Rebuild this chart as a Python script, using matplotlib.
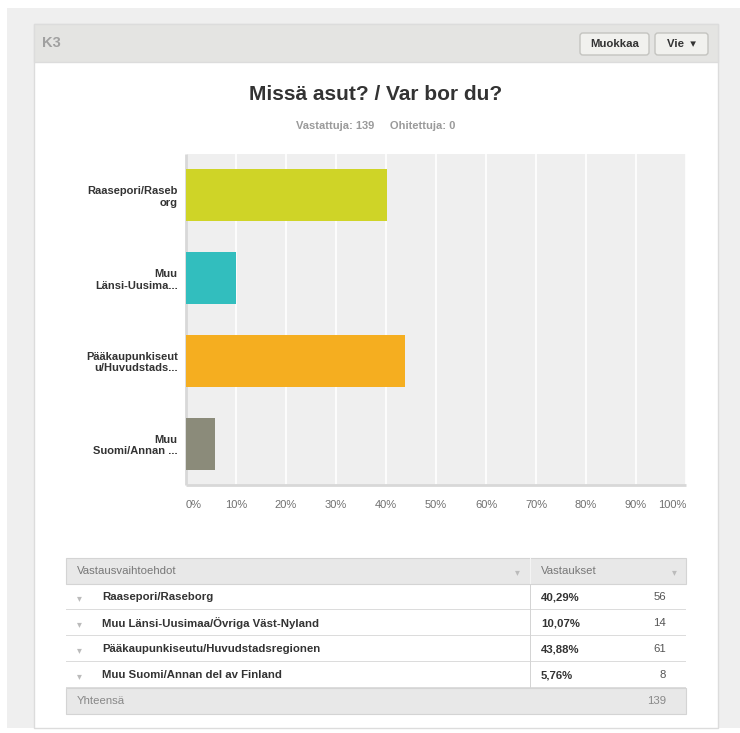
import matplotlib.pyplot as plt
from matplotlib.patches import Rectangle, FancyBboxPatch

plt.rcParams['font.family'] = ['Liberation Sans', 'DejaVu Sans']

# survey results
question = 'Missä asut? / Var bor du?'
answered = 139
skipped = 0
short_labels = ['Raasepori/Raseb\norg', 'Muu\nLänsi-Uusima...',
                'Pääkaupunkiseut\nu/Huvudstads...', 'Muu\nSuomi/Annan ...']
options = ['Raasepori/Raseborg', 'Muu Länsi-Uusimaa/Övriga Väst-Nyland',
           'Pääkaupunkiseutu/Huvudstadsregionen', 'Muu Suomi/Annan del av Finland']
percents = [40.29, 10.07, 43.88, 5.76]
counts = [56, 14, 61, 8]
total = 139
bar_colors = ['#cfd427', '#32bebe', '#f5ae20', '#8b8b7a']
ticks = [0, 10, 20, 30, 40, 50, 60, 70, 80, 90, 100]

W, H = 740, 733
fig = plt.figure(figsize=(W / 100, H / 100), dpi=100)

def px(x, y):
    # pixel position from the top-left corner -> figure fraction
    return x / W, 1 - y / H

def box(x0, y0, x1, y1, **kw):
    fx, fy = px(x0, y1)
    fig.patches.append(Rectangle((fx, fy), (x1 - x0) / W, (y1 - y0) / H,
                                 transform=fig.transFigure, **kw))

# page frame
box(7, 8, 740, 728, facecolor='#efefef', edgecolor='none', zorder=0)
box(34, 24, 718, 728, facecolor='white', edgecolor='#dcdcdc', lw=1, zorder=1)
box(34, 24, 718, 62, facecolor='#e4e4e2', edgecolor='#dcdcdc', lw=1, zorder=1)
fig.text(*px(42, 43), 'K3', fontsize=10.5, fontweight='bold', color='#a0a0a0',
         va='center', zorder=3)

# header buttons
for x0, x1, label in [(580, 649, 'Muokkaa'), (655, 708, 'Vie  ▾')]:
    fx, fy = px(x0, 55)
    fig.patches.append(FancyBboxPatch((fx, fy), (x1 - x0) / W, 22 / H,
                                      boxstyle='round,pad=0,rounding_size=0.004',
                                      transform=fig.transFigure,
                                      facecolor='#f1f1ee', edgecolor='#c4c4c0',
                                      lw=1, zorder=2))
    fig.text(*px((x0 + x1) / 2, 44), label, fontsize=8.2, fontweight='bold',
             color='#333333', ha='center', va='center', zorder=3)

fig.text(*px(376, 94), question, fontsize=15, fontweight='bold',
         color='#333333', ha='center', va='center', zorder=3)
fig.text(*px(376, 126), f'Vastattuja: {answered}     Ohitettuja: {skipped}',
         fontsize=8, fontweight='bold', color='#9a9a9a', ha='center', va='center',
         zorder=3)

# bar chart
ax = fig.add_axes([186 / W, 1 - 485 / H, 500 / W, 331 / H])
ax.set_zorder(5)
ax.set_facecolor('#efefef')
ypos = list(range(len(percents)))
ax.barh(ypos, percents, height=0.63, color=bar_colors, zorder=3)
ax.set_xlim(0, 100)
ax.set_ylim(len(percents) - 0.5, -0.5)
ax.set_xticks(ticks)
ax.set_xticklabels([f'{t}%' for t in ticks], fontsize=8, color='#707070')
xl = ax.get_xticklabels()
xl[0].set_ha('left')
xl[-1].set_ha('right')
ax.set_yticks(ypos)
ax.set_yticklabels(short_labels, fontsize=8, fontweight='bold', color='#333333',
                   linespacing=1.2)
ax.tick_params(axis='x', length=0, pad=11)
ax.tick_params(axis='y', length=0, pad=6)
ax.grid(axis='x', color='white', lw=1.2, zorder=1)
for s in ['top', 'right']:
    ax.spines[s].set_visible(False)
for s in ['left', 'bottom']:
    ax.spines[s].set_color('#d8d8d8')
    ax.spines[s].set_linewidth(2)
    ax.spines[s].set_capstyle('butt')

# results table
tx0, tx1, tsep = 66, 686, 530
row_h = 26
top = 558
fs = 8.2
box(tx0, top, tx1, top + row_h, facecolor='#e8e8e8', edgecolor='#d4d4d4', lw=0.8, zorder=1)
box(tsep, top, tsep + 1, top + row_h, facecolor='#f4f4f4', edgecolor='none', zorder=2)
fig.text(*px(77, top + 13), 'Vastausvaihtoehdot', fontsize=fs, color='#777777',
         va='center', zorder=3)
fig.text(*px(541, top + 13), 'Vastaukset', fontsize=fs, color='#777777',
         va='center', zorder=3)
for cx in (517, 674):
    fig.text(*px(cx, top + 14), '▾', fontsize=7, color='#bbbbbb',
             ha='center', va='center', zorder=3)

for i, (name, p, c) in enumerate(zip(options, percents, counts)):
    y0 = top + row_h * (i + 1)
    yc = y0 + row_h / 2
    box(tx0, y0 + row_h - 1, tx1, y0 + row_h, facecolor='#dcdcdc', edgecolor='none', zorder=2)
    fig.text(*px(79, yc + 1), '▾', fontsize=7, color='#bbbbbb', ha='center',
             va='center', zorder=3)
    fig.text(*px(102, yc), name, fontsize=fs, fontweight='bold', color='#333333',
             va='center', zorder=3)
    fig.text(*px(541, yc), f'{p:.2f}'.replace('.', ',') + '%', fontsize=fs,
             fontweight='bold', color='#333333', va='center', zorder=3)
    fig.text(*px(666, yc), str(c), fontsize=fs, color='#555555', ha='right',
             va='center', zorder=3)

box(tsep, top + row_h, tsep + 1, top + row_h * 5, facecolor='#d4d4d4', edgecolor='none', zorder=2)
ty = top + row_h * 5
box(tx0, ty, tx1, ty + row_h, facecolor='#e8e8e8', edgecolor='#d4d4d4', lw=0.8, zorder=1)
fig.text(*px(77, ty + 13), 'Yhteensä', fontsize=fs, color='#888888', va='center', zorder=3)
fig.text(*px(666, ty + 13), str(total), fontsize=fs, color='#888888', ha='right',
         va='center', zorder=3)

fig.savefig('out.png', dpi=100, facecolor='white')
